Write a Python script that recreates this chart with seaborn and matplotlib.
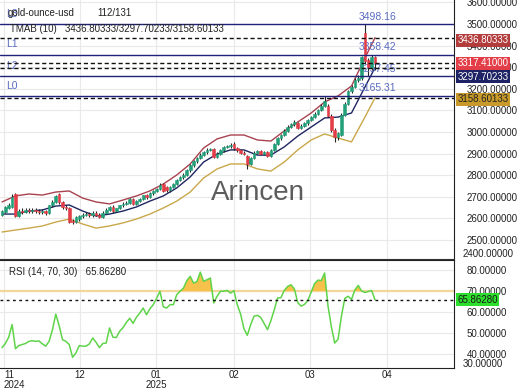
import numpy as np
import pandas as pd
import matplotlib
matplotlib.use("Agg")
import matplotlib.pyplot as plt
import seaborn as sns
from matplotlib.transforms import blended_transform_factory

# ==== DATA ====
opens = [2615, 2630, 2650, 2655, 2712, 2612, 2636, 2630, 2641, 2633,
         2639, 2634, 2628, 2636, 2626, 2660, 2678, 2712, 2676, 2652,
         2648, 2590, 2584, 2596, 2610, 2616, 2622, 2614, 2626, 2618,
         2608, 2626, 2640, 2655, 2632, 2648, 2660, 2668, 2673, 2690,
         2666, 2681, 2690, 2706, 2698, 2716, 2726, 2737, 2760, 2745,
         2730, 2746, 2761, 2778, 2790, 2800, 2822, 2846, 2865, 2880,
         2895, 2906, 2916, 2922, 2885, 2900, 2915, 2930, 2935, 2945,
         2925, 2916, 2905, 2888, 2852, 2880, 2905, 2910, 2900, 2906,
         2890, 2915, 2945, 2970, 2985, 3005, 3025, 3035, 3040, 3020,
         3030, 3040, 3056, 3070, 3085, 3100, 3122, 3120, 3075, 3010,
         2975, 2985, 3080, 3130, 3190, 3210, 3240, 3248, 3460, 3335,
         3295, 3345]
highs = [2640, 2658, 2670, 2712, 2716, 2642, 2648, 2650, 2648, 2647,
         2646, 2642, 2644, 2640, 2664, 2684, 2710, 2718, 2682, 2660,
         2652, 2598, 2612, 2616, 2624, 2630, 2628, 2632, 2632, 2624,
         2632, 2646, 2658, 2660, 2650, 2664, 2674, 2682, 2694, 2694,
         2686, 2696, 2706, 2712, 2722, 2732, 2742, 2762, 2764, 2750,
         2752, 2766, 2784, 2796, 2808, 2828, 2852, 2872, 2886, 2902,
         2914, 2924, 2928, 2926, 2906, 2922, 2936, 2942, 2950, 2952,
         2932, 2922, 2912, 2894, 2886, 2910, 2918, 2916, 2912, 2912,
         2920, 2950, 2976, 2992, 3012, 3032, 3042, 3054, 3046, 3036,
         3046, 3062, 3076, 3092, 3108, 3130, 3165.31, 3128, 3082, 3018,
         3002, 3086, 3138, 3196, 3218, 3248, 3262, 3352, 3498.16, 3342,
         3358.42, 3352]
lows = [2610, 2625, 2642, 2650, 2605, 2606, 2622, 2624, 2626, 2627,
        2626, 2620, 2622, 2618, 2620, 2654, 2672, 2668, 2645, 2638,
        2578, 2575, 2580, 2590, 2604, 2610, 2608, 2608, 2612, 2600,
        2604, 2620, 2636, 2626, 2628, 2644, 2654, 2662, 2668, 2660,
        2660, 2676, 2684, 2692, 2694, 2710, 2720, 2732, 2720, 2724,
        2724, 2740, 2755, 2772, 2784, 2795, 2816, 2840, 2858, 2874,
        2888, 2900, 2910, 2878, 2880, 2894, 2908, 2924, 2928, 2918,
        2908, 2898, 2892, 2830, 2846, 2874, 2898, 2894, 2894, 2884,
        2886, 2910, 2940, 2964, 2980, 3000, 3018, 3028, 3014, 3012,
        3024, 3034, 3050, 3064, 3080, 3095, 3116, 3068, 3002, 2955,
        2962, 2980, 3074, 3124, 3182, 3204, 3232, 3240, 3320, 3257.45,
        3288, 3285]
closes = [2635, 2652, 2662, 2700, 2612, 2636, 2630, 2641, 2633, 2639,
          2634, 2628, 2636, 2626, 2660, 2678, 2702, 2676, 2652, 2646,
          2585, 2584, 2606, 2610, 2616, 2622, 2614, 2626, 2618, 2608,
          2626, 2640, 2655, 2632, 2648, 2660, 2668, 2673, 2688, 2666,
          2681, 2690, 2706, 2698, 2716, 2726, 2737, 2756, 2726, 2730,
          2746, 2761, 2778, 2790, 2800, 2822, 2846, 2865, 2880, 2895,
          2906, 2916, 2922, 2885, 2900, 2915, 2930, 2935, 2942, 2925,
          2916, 2905, 2900, 2852, 2880, 2905, 2910, 2900, 2906, 2890,
          2915, 2945, 2970, 2985, 3005, 3025, 3035, 3046, 3020, 3030,
          3040, 3056, 3070, 3085, 3100, 3122, 3142, 3075, 3010, 2975,
          2995, 3080, 3130, 3190, 3210, 3240, 3250, 3345, 3330, 3300,
          3345, 3317.41]

rsi = [43.0, 45.0, 48.0, 54.0, 42.5, 44.0, 44.5, 45.0, 46.0, 46.3,
       46.0, 46.2, 44.8, 43.7, 46.0, 51.5, 59.0, 53.5, 46.8, 46.0,
       44.5, 38.4, 40.5, 44.0, 43.7, 43.7, 44.8, 47.6, 45.5, 43.0,
       45.0, 45.2, 52.4, 48.0, 47.8, 50.8, 52.5, 55.0, 57.0, 54.6,
       57.5, 59.5, 61.9, 58.7, 61.5, 63.5, 66.5, 69.9, 62.5, 61.9,
       63.5, 63.5, 68.3, 69.9, 71.4, 75.0, 77.0, 73.8, 74.5, 79.0,
       74.6, 75.4, 76.2, 64.3, 67.5, 69.9, 69.9, 70.3, 69.0, 70.2,
       63.5, 59.0, 52.0, 48.9, 54.0, 58.0, 58.4, 57.4, 54.5, 51.6,
       55.8, 61.0, 66.7, 66.8, 70.3, 72.2, 73.0, 71.0, 64.5, 62.8,
       63.6, 65.5, 69.5, 73.5, 75.2, 75.0, 78.6, 63.0, 53.0, 45.2,
       47.0, 58.0, 66.5, 67.5, 66.0, 70.5, 72.7, 70.0, 69.3, 69.8,
       70.2, 65.8628]

band_idx = [0, 4, 8, 12, 16, 20, 24, 28, 32, 36, 40, 44, 48, 52, 56,
            60, 64, 68, 72, 76, 80, 84, 88, 92, 96, 100, 104, 108, 111]
band_upper = [2676, 2704, 2713, 2708, 2722, 2727, 2694, 2676, 2667, 2685,
              2704, 2727, 2759, 2801, 2852, 2926, 2968, 2986, 2986, 2963,
              2958, 3005, 3046, 3088, 3139, 3167, 3213, 3343, 3436.80333]
band_mid = [2620, 2620, 2634, 2639, 2657, 2662, 2634, 2611, 2620, 2634,
            2653, 2680, 2704, 2741, 2792, 2861, 2898, 2917, 2917, 2893,
            2893, 2931, 2981, 3023, 3065, 3069, 3088, 3208, 3297.70233]
band_lower = [2537, 2546, 2555, 2565, 2583, 2597, 2574, 2555, 2565, 2579,
              2597, 2620, 2648, 2680, 2722, 2787, 2829, 2852, 2852, 2829,
              2819, 2861, 2917, 2963, 2991, 2972, 2954, 3069, 3158.60133]

level_names = ["L3", "L1", "L2", "L0"]
level_values = [3498.16, 3358.42, 3257.45, 3165.31]

month_pos = [0.6, 23.2, 45.8, 69.0, 91.7, 114.6]
month_labels = ["11\n2024", "12", "01\n2025", "02", "03", "04"]

GREEN = "#23a07a"
RED = "#e33d47"
UP_C = "#a8424f"
MID_C = "#1f2660"
LOW_C = "#c9a84a"
LVL_C = "#1f237a"
LBL_C = "#5a6bc0"
GRID_C = "#e9e9e9"
TXT_C = "#222222"

sns.set_style("white")
plt.rcParams["font.family"] = ["Liberation Sans", "DejaVu Sans"]
plt.rcParams["font.size"] = 7

fig = plt.figure(figsize=(5.2, 3.9), dpi=100)
ax = fig.add_axes([0, 1 - 259 / 390, 454 / 520, 259 / 390])
ax2 = fig.add_axes([0, 1 - 368 / 390, 454 / 520, 108 / 390], sharex=ax)

# ==== MAIN PANEL ====
df = pd.DataFrame({"open": opens, "high": highs, "low": lows, "close": closes})
df["i"] = np.arange(len(df))
up = df["close"] >= df["open"]
colors = np.where(up, GREEN, RED)
ax.vlines(df["i"], df["low"], df["high"], color="#262626", lw=0.8, zorder=3)
ax.bar(df["i"], (df["close"] - df["open"]).abs().clip(lower=3),
       bottom=np.minimum(df["open"], df["close"]), width=0.8,
       color=colors, edgecolor=colors, lw=0.4, zorder=4)

bands = pd.DataFrame({"i": band_idx, "upper": band_upper,
                      "mid": band_mid, "lower": band_lower})
for col, c in [("upper", UP_C), ("mid", MID_C), ("lower", LOW_C)]:
    sns.lineplot(data=bands, x="i", y=col, color=c, lw=1.0, ax=ax, zorder=2)

ax.set_xlim(-0.6, 134.5)
ax.set_ylim(2412, 3611)
ax.set_xlabel("")
ax.set_ylabel("")
ax.yaxis.tick_right()
ax.set_yticks(np.arange(2500, 3601, 100))
ax.yaxis.set_major_formatter(plt.FormatStrFormatter("%.5f"))
ax.tick_params(axis="y", length=0, pad=9, labelsize=7, labelcolor=TXT_C)
ax.tick_params(axis="x", length=0, labelbottom=False)
ax.set_xticks(month_pos)
ax.grid(True, color=GRID_C, lw=0.8)
for s in ["top", "left"]:
    ax.spines[s].set_visible(False)
ax.spines["right"].set_color("#222222")
ax.spines["bottom"].set_color("#333333")

trans = blended_transform_factory(ax.transAxes, ax.transData)
for name, v in zip(level_names, level_values):
    ax.axhline(v, color=LVL_C, lw=1.0, zorder=5)
    ax.annotate(f"{v:.2f}", xy=(0.79, v), xycoords=trans, xytext=(0, 2),
                textcoords="offset points", va="bottom", color=LBL_C, fontsize=7.5)
    ax.annotate(name, xy=(0.013, v), xycoords=trans, xytext=(0, 4),
                textcoords="offset points", va="bottom", color=LBL_C, fontsize=7.5)

current = [band_upper[-1], closes[-1], band_mid[-1], band_lower[-1]]
for v in current:
    ax.axhline(v, color="#111111", lw=1.0, ls=(0, (3, 2)), zorder=5)

box_cols = [("#b23b3b", "white"), (RED, "white"), ("#1c2263", "white"), ("#c79a2a", TXT_C)]
box_offsets = [-2, 0, -6.5, -1]
for v, (bg, fg), off in zip(current, box_cols, box_offsets):
    ax.annotate(f"{v:.5f}", xy=(1.0, v), xycoords=trans, xytext=(2.5, off),
                textcoords="offset points", va="center", ha="left", color=fg,
                fontsize=7, annotation_clip=False, zorder=10,
                bbox=dict(boxstyle="square,pad=0.15", fc=bg, ec="none"))

ax.text(0.5685, 0.255, "Arincen", transform=ax.transAxes, fontsize=20,
        color="#5c5c5c", ha="center", va="center", zorder=1)
fig.text(8 / 520, 1 - 13 / 390, "gold-ounce-usd", fontsize=7, va="center", color=TXT_C)
fig.text(97 / 520, 1 - 13 / 390, "112/131", fontsize=7, va="center", color=TXT_C)
fig.text(10 / 520, 1 - 29 / 390, "TMAB (10)   3436.80333/3297.70233/3158.60133",
         fontsize=7, va="center", color=TXT_C)
fig.text(463 / 520, 1 - 254 / 390, "2400.00000", fontsize=7, va="center", color=TXT_C)

# ==== RSI PANEL ====
rs = pd.DataFrame({"i": np.arange(len(rsi)), "rsi": rsi})
ax2.axhline(70, color="#f3d69a", lw=1.6, zorder=2)
ax2.fill_between(rs["i"], rs["rsi"], 70, where=rs["rsi"] > 70, interpolate=True,
                 color="#f7c14c", lw=0, zorder=2)
sns.lineplot(data=rs, x="i", y="rsi", color="#5fd44a", lw=1.1, ax=ax2, zorder=3)
ax2.axhline(rsi[-1], color="#111111", lw=1.0, ls=(0, (2, 2.5)), zorder=4)

ax2.set_ylim(33.3, 84.8)
ax2.set_xlim(-0.6, 134.5)
ax2.set_xlabel("")
ax2.set_ylabel("")
ax2.yaxis.tick_right()
ax2.set_yticks([40, 50, 60, 70, 80])
ax2.yaxis.set_major_formatter(plt.FormatStrFormatter("%.5f"))
ax2.tick_params(axis="y", length=0, pad=9, labelsize=7, labelcolor=TXT_C)
ax2.set_xticks(month_pos)
ax2.set_xticklabels(month_labels, linespacing=1.0)
ax2.get_xticklabels()[0].set_horizontalalignment("left")
ax2.tick_params(axis="x", length=0, pad=1.5, labelsize=7, labelcolor=TXT_C)
ax2.grid(True, color=GRID_C, lw=0.8)
ax2.spines["left"].set_visible(False)
for s in ["top", "right", "bottom"]:
    ax2.spines[s].set_color("#222222")
ax2.annotate(f"{rsi[-1]:.5f}", xy=(1.0, rsi[-1]),
             xycoords=blended_transform_factory(ax2.transAxes, ax2.transData),
             xytext=(2.5, 0), textcoords="offset points", va="center", ha="left",
             color="#1a1a1a", fontsize=7, annotation_clip=False, zorder=10,
             bbox=dict(boxstyle="square,pad=0.15", fc="#2ee02e", ec="none"))
fig.text(463 / 520, 1 - 364 / 390, "30.00000", fontsize=7, va="center", color=TXT_C)
fig.text(9 / 520, 1 - 272 / 390, "RSI (14, 70, 30)   65.86280", fontsize=7,
         va="center", color=TXT_C)

fig.savefig("out.png", dpi=100)
